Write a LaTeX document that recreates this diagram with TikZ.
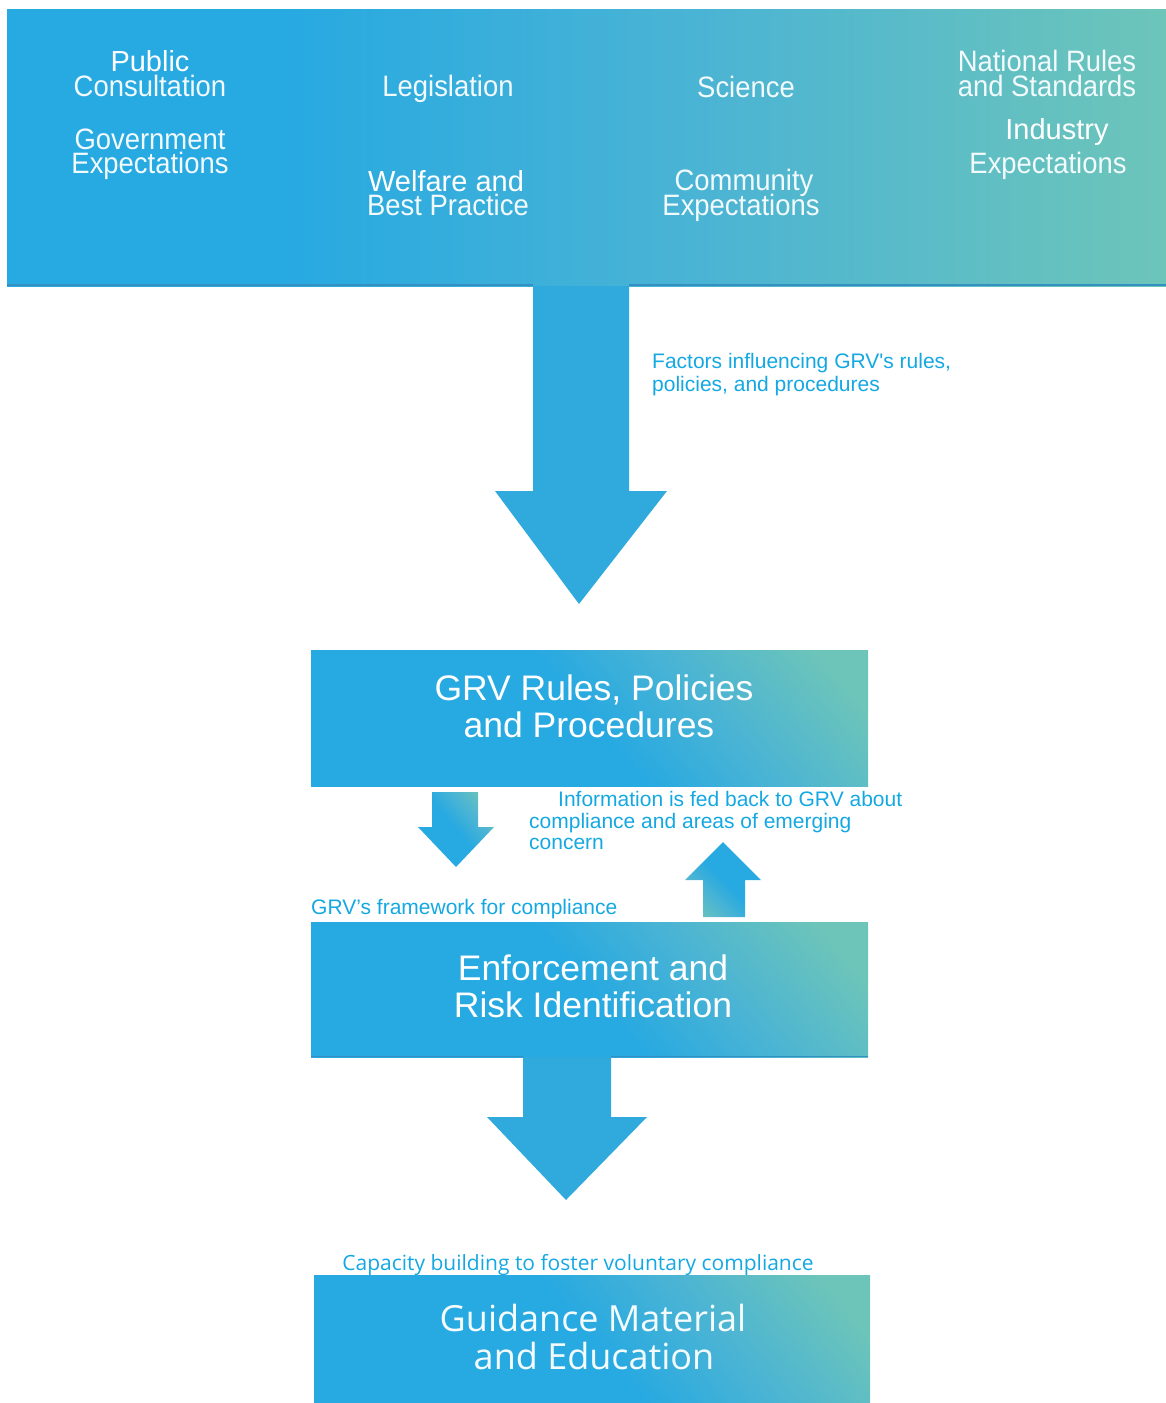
\documentclass[tikz,border=0pt]{standalone}
\usepackage{fontspec}
\setmainfont{Liberation Sans}
\newfontfamily\thinfont[FakeStretch=0.93]{Liberation Sans}
\newfontfamily\meifont{Open Sans}
\usetikzlibrary{calc}

\definecolor{grvblue}{HTML}{27A9E1}
\definecolor{grvteal}{HTML}{6DC5B9}
\definecolor{grvmid}{HTML}{4BB4D4}
\definecolor{grvline}{HTML}{3590C2}
\definecolor{grvlabel}{HTML}{14A8E2}
\definecolor{arrowblue}{HTML}{30A9DC}

\pgfdeclarehorizontalshading{bannergrad}{100bp}{color(0bp)=(grvblue); color(37bp)=(grvblue); color(55bp)=(grvmid); color(75bp)=(grvteal); color(100bp)=(grvteal)}
\pgfdeclarehorizontalshading{boxgrad}{100bp}{color(0bp)=(grvblue); color(50bp)=(grvblue); color(64bp)=(grvmid); color(80bp)=(grvteal); color(100bp)=(grvteal)}

\tikzset{
  toptext/.style={anchor=base, text=white, inner sep=0, font=\fontsize{29}{29}\selectfont},
  topthin/.style={anchor=base, text=white!94!grvblue, inner sep=0, font=\thinfont\fontsize{29.5}{29.5}\selectfont},
  boxtext/.style={anchor=base, text=white, inner sep=0, font=\fontsize{35.5}{36}\selectfont},
  meitext/.style={anchor=base, text=white!95!grvblue, inner sep=0, font=\meifont\fontsize{36}{36}\selectfont},
  flowlabel/.style={anchor=base west, text=grvlabel, inner sep=0, font=\fontsize{21}{21}\selectfont},
  grvbox/.style={shading=boxgrad, shading angle=40},
  blockarrow/.style={fill=arrowblue},
}

\begin{document}
\begin{tikzpicture}[x=1pt,y=-1pt]
  \useasboundingbox (0,0) rectangle (1166,1403);

  % factors banner
  \path[shading=bannergrad] (7,9) rectangle (1166,286);
  \draw[grvline, line width=2] (7,285) -- (533,285) (629,285) -- (1166,285);
  \node[toptext] (pub) at (150,71) {Public};
  \node[topthin] (cons) at (150,96) {Consultation};
  \node[topthin] (gov) at (150,149) {Government};
  \node[topthin] (govexp) at (150,173) {Expectations};
  \node[topthin] (leg) at (448,96) {Legislation};
  \node[toptext] (welf) at (446,191) {Welfare and};
  \node[topthin] (best) at (448,215) {Best Practice};
  \node[topthin] (sci) at (746,97) {Science};
  \node[topthin] (comm) at (744,190) {Community};
  \node[topthin] (commexp) at (741,215) {Expectations};
  \node[topthin] (nat) at (1047,71) {National Rules};
  \node[topthin] (std) at (1047,96) {and Standards};
  \node[toptext] (ind) at (1057,139) {Industry};
  \node[topthin] (indexp) at (1048,173) {Expectations};

  % arrow into the rules box
  \fill[blockarrow] (533,286) -- (533,491) -- (495,491) -- (579,604) -- (667,491) -- (629,491) -- (629,286) -- cycle;
  \node[flowlabel] (factors) at (652,368) {Factors influencing GRV\textquotesingle s rules,};
  \node[flowlabel] (factors2) at (652,391) {policies, and procedures};

  % rules box
  \path[grvbox] (311,650) rectangle (868,786);
  \node[boxtext] (rules) at (594,700) {GRV Rules, Policies};
  \node[boxtext] (rules2) at (589,737) {and Procedures};

  % down and up arrows
  \path[grvbox] (432,792) -- (478,792) -- (478,827) -- (494,827) -- (456,867) -- (418,827) -- (432,827) -- cycle;
  \path[shading=boxgrad, shading angle=225] (703,917) -- (703,880) -- (685,880) -- (723,842) -- (761,880) -- (745,880) -- (745,917) -- cycle;
  \node[flowlabel] (info) at (558,806) {Information is fed back to GRV about};
  \node[flowlabel] (info2) at (529,828) {compliance and areas of emerging};
  \node[flowlabel] (info3) at (529,849) {concern};
  \node[flowlabel] (frame) at (311,914) {GRV’s framework for compliance};

  % enforcement box
  \path[grvbox] (311,922) rectangle (868,1057);
  \draw[grvline, line width=1.5] (311,1056.5) -- (523,1056.5) (611,1056.5) -- (868,1056.5);
  \node[boxtext] (enf) at (593,980) {Enforcement and};
  \node[boxtext] (enf2) at (593,1017) {Risk Identification};

  % arrow into guidance box
  \fill[blockarrow] (523,1057) -- (523,1117) -- (487,1117) -- (566,1200) -- (647,1117) -- (611,1117) -- (611,1057) -- cycle;
  \node[anchor=base, text=grvlabel, inner sep=0, font=\meifont\fontsize{21}{21}\selectfont] (cap) at (578,1270) {Capacity building to foster voluntary compliance};

  % guidance box
  \path[grvbox] (314,1275) rectangle (870,1403);
  \node[meitext] (guide) at (593,1331) {Guidance Material};
  \node[meitext] (guide2) at (594,1369) {and Education};
\end{tikzpicture}
\end{document}
